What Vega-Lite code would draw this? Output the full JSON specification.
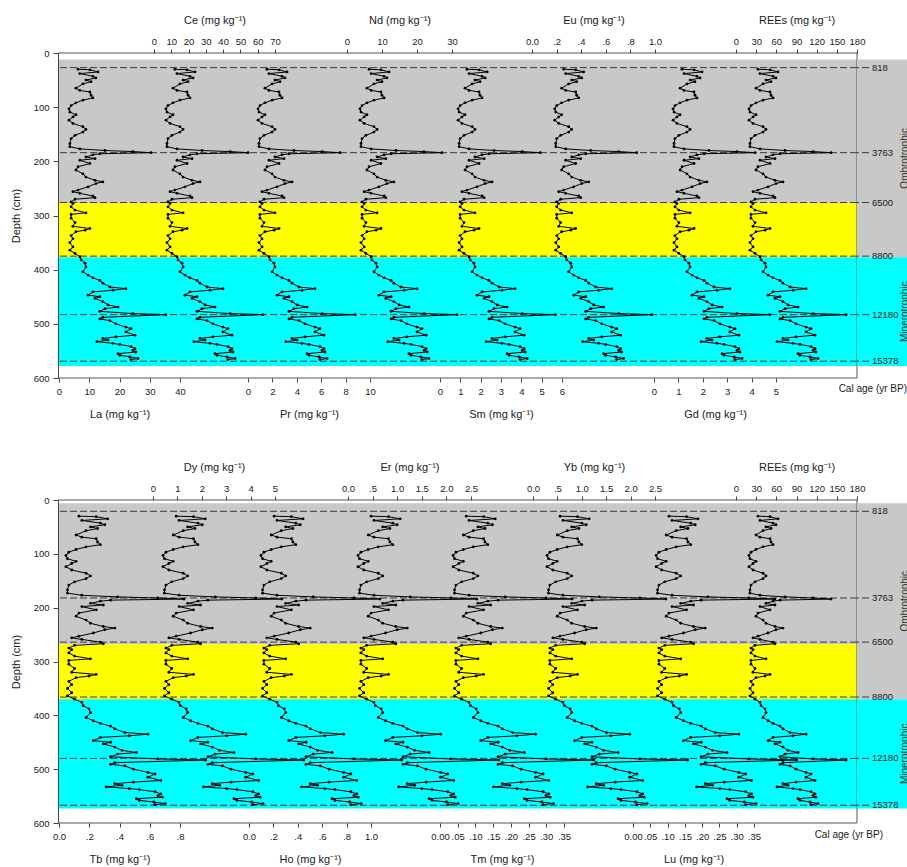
{
  "$schema": "https://vega.github.io/schema/vega-lite/v6.json",
  "background": "white",
  "padding": {"left": 10, "top": 14, "right": 0, "bottom": 0},
  "config": {
    "font": "Liberation Sans",
    "view": {"stroke": null},
    "axis": {"labelFont": "Liberation Sans", "titleFont": "Liberation Sans", "labelFontSize": 9.5, "titleFontSize": 11, "titleFontWeight": "normal", "labelColor": "#1a1a1a", "titleColor": "#1a1a1a", "tickColor": "#444", "domainColor": "#444", "grid": false, "labelFlush": false, "labelOverlap": false, "labelBound": false},
    "axisBottom": {"domain": false, "tickSize": 4, "labelPadding": 4, "titlePadding": 13},
    "axisTop": {"domain": false, "tickSize": 4, "labelPadding": 3, "titlePadding": 11},
    "axisLeft": {"domain": true, "tickSize": 5, "labelPadding": 4, "titlePadding": 12},
    "title": {"font": "Liberation Sans", "fontWeight": "normal", "fontSize": 10, "color": "#1a1a1a"}
  },
  "datasets": {
    "units1": [
      {"unit": "ombrotrophic", "top": 12, "bottom": 277},
      {"unit": "transitional", "top": 277, "bottom": 377},
      {"unit": "minerotrophic", "top": 377, "bottom": 578}
    ],
    "zones1": [
      {"zone": "Ombrotrophic", "top": 12, "bottom": 377},
      {"zone": "Minerotrophic", "top": 377, "bottom": 578}
    ],
    "ages1": [
      {"age": 818, "depth": 27}, {"age": 3763, "depth": 184}, {"age": 6500, "depth": 276},
      {"age": 8800, "depth": 375}, {"age": 12180, "depth": 483}, {"age": 15378, "depth": 569}
    ],
    "units2": [
      {"unit": "ombrotrophic", "top": 6, "bottom": 268},
      {"unit": "transitional", "top": 268, "bottom": 370},
      {"unit": "minerotrophic", "top": 370, "bottom": 573}
    ],
    "zones2": [
      {"zone": "Ombrotrophic", "top": 6, "bottom": 370},
      {"zone": "Minerotrophic", "top": 370, "bottom": 573}
    ],
    "ages2": [
      {"age": 818, "depth": 21}, {"age": 3763, "depth": 182}, {"age": 6500, "depth": 264},
      {"age": 8800, "depth": 366}, {"age": 12180, "depth": 480}, {"age": 15378, "depth": 567}
    ],
    "frame": [
      {"edge": "top", "depth": 0}, {"edge": "bottom", "depth": 600}, {"edge": "right"}
    ],
    "top": [
      {"depth":30,"La":6.3,"Ce":12.1,"Pr":1.56,"Nd":6.3,"Sm":1.33,"Eu":0.258,"Gd":1.15,"REE":32.7},
      {"depth":31,"La":10.2,"Ce":19.1,"Pr":2.54,"Nd":9.7,"Sm":1.92,"Eu":0.355,"Gd":1.64,"REE":50.6},
      {"depth":35,"La":12.9,"Ce":23.7,"Pr":3.2,"Nd":12.0,"Sm":2.32,"Eu":0.42,"Gd":1.97,"REE":62.5},
      {"depth":38,"La":6.9,"Ce":13.3,"Pr":1.72,"Nd":6.9,"Sm":1.43,"Eu":0.274,"Gd":1.23,"REE":35.7},
      {"depth":43,"La":11.2,"Ce":20.8,"Pr":2.79,"Nd":10.6,"Sm":2.07,"Eu":0.38,"Gd":1.76,"REE":55.1},
      {"depth":46,"La":12.2,"Ce":22.6,"Pr":3.03,"Nd":11.4,"Sm":2.22,"Eu":0.404,"Gd":1.89,"REE":59.5},
      {"depth":50,"La":8.9,"Ce":16.8,"Pr":2.21,"Nd":8.6,"Sm":1.72,"Eu":0.323,"Gd":1.48,"REE":44.6},
      {"depth":53,"La":10.6,"Ce":19.7,"Pr":2.62,"Nd":10.0,"Sm":1.97,"Eu":0.363,"Gd":1.68,"REE":52.1},
      {"depth":57,"La":7.9,"Ce":15.0,"Pr":1.97,"Nd":7.7,"Sm":1.58,"Eu":0.298,"Gd":1.35,"REE":40.2},
      {"depth":65,"La":5.6,"Ce":11.0,"Pr":1.39,"Nd":5.7,"Sm":1.23,"Eu":0.241,"Gd":1.07,"REE":29.8},
      {"depth":69,"La":6.9,"Ce":13.3,"Pr":1.72,"Nd":6.9,"Sm":1.43,"Eu":0.274,"Gd":1.23,"REE":35.7},
      {"depth":72,"La":10.2,"Ce":19.1,"Pr":2.54,"Nd":9.7,"Sm":1.92,"Eu":0.355,"Gd":1.64,"REE":50.6},
      {"depth":78,"La":10.6,"Ce":19.7,"Pr":2.62,"Nd":10.0,"Sm":1.97,"Eu":0.363,"Gd":1.68,"REE":52.1},
      {"depth":83,"La":11.2,"Ce":20.8,"Pr":2.79,"Nd":10.6,"Sm":2.07,"Eu":0.38,"Gd":1.76,"REE":55.1},
      {"depth":87,"La":7.9,"Ce":15.0,"Pr":1.97,"Nd":7.7,"Sm":1.58,"Eu":0.298,"Gd":1.35,"REE":40.2},
      {"depth":92,"La":5.6,"Ce":11.0,"Pr":1.39,"Nd":5.7,"Sm":1.23,"Eu":0.241,"Gd":1.07,"REE":29.8},
      {"depth":97,"La":4.0,"Ce":8.1,"Pr":0.98,"Nd":4.3,"Sm":0.99,"Eu":0.201,"Gd":0.86,"REE":22.3},
      {"depth":103,"La":3.3,"Ce":6.9,"Pr":0.82,"Nd":3.7,"Sm":0.89,"Eu":0.185,"Gd":0.78,"REE":19.3},
      {"depth":109,"La":3.6,"Ce":7.5,"Pr":0.9,"Nd":4.0,"Sm":0.94,"Eu":0.193,"Gd":0.82,"REE":20.8},
      {"depth":114,"La":5.6,"Ce":11.0,"Pr":1.39,"Nd":5.7,"Sm":1.23,"Eu":0.241,"Gd":1.07,"REE":29.8},
      {"depth":118,"La":4.6,"Ce":9.3,"Pr":1.15,"Nd":4.9,"Sm":1.08,"Eu":0.217,"Gd":0.94,"REE":25.3},
      {"depth":124,"La":3.3,"Ce":6.9,"Pr":0.82,"Nd":3.7,"Sm":0.89,"Eu":0.185,"Gd":0.78,"REE":19.3},
      {"depth":130,"La":4.6,"Ce":9.3,"Pr":1.15,"Nd":4.9,"Sm":1.08,"Eu":0.217,"Gd":0.94,"REE":25.3},
      {"depth":136,"La":7.9,"Ce":15.0,"Pr":1.97,"Nd":7.7,"Sm":1.58,"Eu":0.298,"Gd":1.35,"REE":40.2},
      {"depth":141,"La":8.9,"Ce":16.8,"Pr":2.21,"Nd":8.6,"Sm":1.72,"Eu":0.323,"Gd":1.48,"REE":44.6},
      {"depth":146,"La":7.9,"Ce":15.0,"Pr":1.97,"Nd":7.7,"Sm":1.58,"Eu":0.298,"Gd":1.35,"REE":40.2},
      {"depth":152,"La":5.3,"Ce":10.4,"Pr":1.31,"Nd":5.4,"Sm":1.18,"Eu":0.233,"Gd":1.02,"REE":28.3},
      {"depth":158,"La":4.0,"Ce":8.1,"Pr":0.98,"Nd":4.3,"Sm":0.99,"Eu":0.201,"Gd":0.86,"REE":22.3},
      {"depth":167,"La":3.6,"Ce":7.5,"Pr":0.9,"Nd":4.0,"Sm":0.94,"Eu":0.193,"Gd":0.82,"REE":20.8},
      {"depth":173,"La":3.6,"Ce":7.5,"Pr":0.9,"Nd":4.0,"Sm":0.94,"Eu":0.193,"Gd":0.82,"REE":20.8},
      {"depth":177,"La":6.9,"Ce":13.3,"Pr":1.72,"Nd":6.9,"Sm":1.43,"Eu":0.274,"Gd":1.23,"REE":35.7},
      {"depth":180,"La":15.2,"Ce":27.8,"Pr":3.77,"Nd":14.0,"Sm":2.66,"Eu":0.477,"Gd":2.25,"REE":72.9},
      {"depth":182,"La":24.4,"Ce":44.0,"Pr":6.07,"Nd":22.0,"Sm":4.04,"Eu":0.705,"Gd":3.4,"REE":114.6},
      {"depth":184,"La":30.4,"Ce":54.4,"Pr":7.54,"Nd":27.1,"Sm":4.93,"Eu":0.851,"Gd":4.14,"REE":141.4},
      {"depth":186,"La":13.5,"Ce":24.9,"Pr":3.36,"Nd":12.6,"Sm":2.41,"Eu":0.437,"Gd":2.05,"REE":65.5},
      {"depth":188,"La":11.2,"Ce":20.8,"Pr":2.79,"Nd":10.6,"Sm":2.07,"Eu":0.38,"Gd":1.76,"REE":55.1},
      {"depth":192,"La":8.9,"Ce":16.8,"Pr":2.21,"Nd":8.6,"Sm":1.72,"Eu":0.323,"Gd":1.48,"REE":44.6},
      {"depth":195,"La":11.9,"Ce":22.0,"Pr":2.95,"Nd":11.1,"Sm":2.17,"Eu":0.396,"Gd":1.84,"REE":58.0},
      {"depth":198,"La":6.9,"Ce":13.3,"Pr":1.72,"Nd":6.9,"Sm":1.43,"Eu":0.274,"Gd":1.23,"REE":35.7},
      {"depth":204,"La":10.2,"Ce":19.1,"Pr":2.54,"Nd":9.7,"Sm":1.92,"Eu":0.355,"Gd":1.64,"REE":50.6},
      {"depth":210,"La":6.3,"Ce":12.1,"Pr":1.56,"Nd":6.3,"Sm":1.33,"Eu":0.258,"Gd":1.15,"REE":32.7},
      {"depth":216,"La":5.6,"Ce":11.0,"Pr":1.39,"Nd":5.7,"Sm":1.23,"Eu":0.241,"Gd":1.07,"REE":29.8},
      {"depth":223,"La":7.9,"Ce":15.0,"Pr":1.97,"Nd":7.7,"Sm":1.58,"Eu":0.298,"Gd":1.35,"REE":40.2},
      {"depth":229,"La":8.9,"Ce":16.8,"Pr":2.21,"Nd":8.6,"Sm":1.72,"Eu":0.323,"Gd":1.48,"REE":44.6},
      {"depth":235,"La":11.9,"Ce":22.0,"Pr":2.95,"Nd":11.1,"Sm":2.17,"Eu":0.396,"Gd":1.84,"REE":58.0},
      {"depth":238,"La":14.5,"Ce":26.6,"Pr":3.61,"Nd":13.4,"Sm":2.56,"Eu":0.461,"Gd":2.17,"REE":69.9},
      {"depth":241,"La":12.2,"Ce":22.6,"Pr":3.03,"Nd":11.4,"Sm":2.22,"Eu":0.404,"Gd":1.89,"REE":59.5},
      {"depth":247,"La":9.6,"Ce":17.9,"Pr":2.38,"Nd":9.1,"Sm":1.82,"Eu":0.339,"Gd":1.56,"REE":47.6},
      {"depth":253,"La":6.3,"Ce":12.1,"Pr":1.56,"Nd":6.3,"Sm":1.33,"Eu":0.258,"Gd":1.15,"REE":32.7},
      {"depth":256,"La":4.6,"Ce":9.3,"Pr":1.15,"Nd":4.9,"Sm":1.08,"Eu":0.217,"Gd":0.94,"REE":25.3},
      {"depth":259,"La":6.9,"Ce":13.3,"Pr":1.72,"Nd":6.9,"Sm":1.43,"Eu":0.274,"Gd":1.23,"REE":35.7},
      {"depth":264,"La":11.2,"Ce":20.8,"Pr":2.79,"Nd":10.6,"Sm":2.07,"Eu":0.38,"Gd":1.76,"REE":55.1},
      {"depth":267,"La":11.9,"Ce":22.0,"Pr":2.95,"Nd":11.1,"Sm":2.17,"Eu":0.396,"Gd":1.84,"REE":58.0},
      {"depth":270,"La":5.3,"Ce":10.4,"Pr":1.31,"Nd":5.4,"Sm":1.18,"Eu":0.233,"Gd":1.02,"REE":28.3},
      {"depth":275,"La":4.0,"Ce":8.1,"Pr":0.98,"Nd":4.3,"Sm":0.99,"Eu":0.201,"Gd":0.86,"REE":22.3},
      {"depth":278,"La":4.6,"Ce":9.3,"Pr":1.15,"Nd":4.9,"Sm":1.08,"Eu":0.217,"Gd":0.94,"REE":25.3},
      {"depth":284,"La":4.0,"Ce":8.1,"Pr":0.98,"Nd":4.3,"Sm":0.99,"Eu":0.201,"Gd":0.86,"REE":22.3},
      {"depth":290,"La":5.3,"Ce":10.4,"Pr":1.31,"Nd":5.4,"Sm":1.18,"Eu":0.233,"Gd":1.02,"REE":28.3},
      {"depth":295,"La":8.9,"Ce":16.8,"Pr":2.21,"Nd":8.6,"Sm":1.72,"Eu":0.323,"Gd":1.48,"REE":44.6},
      {"depth":298,"La":4.0,"Ce":8.1,"Pr":0.98,"Nd":4.3,"Sm":0.99,"Eu":0.201,"Gd":0.86,"REE":22.3},
      {"depth":305,"La":4.0,"Ce":8.1,"Pr":0.98,"Nd":4.3,"Sm":0.99,"Eu":0.201,"Gd":0.86,"REE":22.3},
      {"depth":313,"La":5.3,"Ce":10.4,"Pr":1.31,"Nd":5.4,"Sm":1.18,"Eu":0.233,"Gd":1.02,"REE":28.3},
      {"depth":320,"La":4.6,"Ce":9.3,"Pr":1.15,"Nd":4.9,"Sm":1.08,"Eu":0.217,"Gd":0.94,"REE":25.3},
      {"depth":324,"La":10.2,"Ce":19.1,"Pr":2.54,"Nd":9.7,"Sm":1.92,"Eu":0.355,"Gd":1.64,"REE":50.6},
      {"depth":327,"La":8.6,"Ce":16.2,"Pr":2.13,"Nd":8.3,"Sm":1.67,"Eu":0.315,"Gd":1.43,"REE":43.2},
      {"depth":330,"La":5.6,"Ce":11.0,"Pr":1.39,"Nd":5.7,"Sm":1.23,"Eu":0.241,"Gd":1.07,"REE":29.8},
      {"depth":337,"La":4.0,"Ce":8.1,"Pr":0.98,"Nd":4.3,"Sm":0.99,"Eu":0.201,"Gd":0.86,"REE":22.3},
      {"depth":343,"La":4.6,"Ce":9.3,"Pr":1.15,"Nd":4.9,"Sm":1.08,"Eu":0.217,"Gd":0.94,"REE":25.3},
      {"depth":350,"La":3.6,"Ce":7.5,"Pr":0.9,"Nd":4.0,"Sm":0.94,"Eu":0.193,"Gd":0.82,"REE":20.8},
      {"depth":358,"La":4.6,"Ce":9.3,"Pr":1.15,"Nd":4.9,"Sm":1.08,"Eu":0.217,"Gd":0.94,"REE":25.3},
      {"depth":364,"La":3.6,"Ce":7.5,"Pr":0.9,"Nd":4.0,"Sm":0.94,"Eu":0.193,"Gd":0.82,"REE":20.8},
      {"depth":370,"La":5.3,"Ce":10.4,"Pr":1.31,"Nd":5.4,"Sm":1.18,"Eu":0.233,"Gd":1.02,"REE":28.3},
      {"depth":376,"La":6.9,"Ce":13.3,"Pr":1.72,"Nd":6.9,"Sm":1.43,"Eu":0.274,"Gd":1.23,"REE":35.7},
      {"depth":382,"La":7.3,"Ce":13.9,"Pr":1.8,"Nd":7.1,"Sm":1.48,"Eu":0.282,"Gd":1.27,"REE":37.2},
      {"depth":388,"La":8.6,"Ce":16.2,"Pr":2.13,"Nd":8.3,"Sm":1.67,"Eu":0.315,"Gd":1.43,"REE":43.2},
      {"depth":395,"La":8.9,"Ce":16.8,"Pr":2.21,"Nd":8.6,"Sm":1.72,"Eu":0.323,"Gd":1.48,"REE":44.6},
      {"depth":404,"La":7.9,"Ce":15.0,"Pr":1.97,"Nd":7.7,"Sm":1.58,"Eu":0.298,"Gd":1.35,"REE":40.2},
      {"depth":410,"La":9.6,"Ce":17.9,"Pr":2.38,"Nd":9.1,"Sm":1.82,"Eu":0.339,"Gd":1.56,"REE":47.6},
      {"depth":415,"La":11.2,"Ce":20.8,"Pr":2.79,"Nd":10.6,"Sm":2.07,"Eu":0.38,"Gd":1.76,"REE":55.1},
      {"depth":420,"La":13.5,"Ce":24.9,"Pr":3.36,"Nd":12.6,"Sm":2.41,"Eu":0.437,"Gd":2.05,"REE":65.5},
      {"depth":425,"La":14.5,"Ce":26.6,"Pr":3.61,"Nd":13.4,"Sm":2.56,"Eu":0.461,"Gd":2.17,"REE":69.9},
      {"depth":432,"La":16.8,"Ce":30.7,"Pr":4.18,"Nd":15.4,"Sm":2.91,"Eu":0.518,"Gd":2.46,"REE":80.4},
      {"depth":435,"La":22.1,"Ce":39.9,"Pr":5.49,"Nd":20.0,"Sm":3.69,"Eu":0.648,"Gd":3.11,"REE":104.2},
      {"depth":438,"La":17.8,"Ce":32.4,"Pr":4.43,"Nd":16.3,"Sm":3.05,"Eu":0.542,"Gd":2.58,"REE":84.8},
      {"depth":441,"La":11.2,"Ce":20.8,"Pr":2.79,"Nd":10.6,"Sm":2.07,"Eu":0.38,"Gd":1.76,"REE":55.1},
      {"depth":447,"La":9.6,"Ce":17.9,"Pr":2.38,"Nd":9.1,"Sm":1.82,"Eu":0.339,"Gd":1.56,"REE":47.6},
      {"depth":450,"La":13.5,"Ce":24.9,"Pr":3.36,"Nd":12.6,"Sm":2.41,"Eu":0.437,"Gd":2.05,"REE":65.5},
      {"depth":453,"La":11.9,"Ce":22.0,"Pr":2.95,"Nd":11.1,"Sm":2.17,"Eu":0.396,"Gd":1.84,"REE":58.0},
      {"depth":459,"La":14.5,"Ce":26.6,"Pr":3.61,"Nd":13.4,"Sm":2.56,"Eu":0.461,"Gd":2.17,"REE":69.9},
      {"depth":465,"La":16.2,"Ce":29.5,"Pr":4.02,"Nd":14.9,"Sm":2.81,"Eu":0.502,"Gd":2.38,"REE":77.4},
      {"depth":469,"La":19.5,"Ce":35.3,"Pr":4.84,"Nd":17.7,"Sm":3.3,"Eu":0.583,"Gd":2.79,"REE":92.3},
      {"depth":472,"La":15.2,"Ce":27.8,"Pr":3.77,"Nd":14.0,"Sm":2.66,"Eu":0.477,"Gd":2.25,"REE":72.9},
      {"depth":477,"La":13.5,"Ce":24.9,"Pr":3.36,"Nd":12.6,"Sm":2.41,"Eu":0.437,"Gd":2.05,"REE":65.5},
      {"depth":481,"La":24.4,"Ce":44.0,"Pr":6.07,"Nd":22.0,"Sm":4.04,"Eu":0.705,"Gd":3.4,"REE":114.6},
      {"depth":483,"La":35.3,"Ce":63.1,"Pr":8.77,"Nd":31.4,"Sm":5.67,"Eu":0.973,"Gd":4.75,"REE":163.7},
      {"depth":488,"La":14.5,"Ce":26.6,"Pr":3.61,"Nd":13.4,"Sm":2.56,"Eu":0.461,"Gd":2.17,"REE":69.9},
      {"depth":491,"La":13.5,"Ce":24.9,"Pr":3.36,"Nd":12.6,"Sm":2.41,"Eu":0.437,"Gd":2.05,"REE":65.5},
      {"depth":494,"La":16.8,"Ce":30.7,"Pr":4.18,"Nd":15.4,"Sm":2.91,"Eu":0.518,"Gd":2.46,"REE":80.4},
      {"depth":500,"La":18.8,"Ce":34.1,"Pr":4.67,"Nd":17.1,"Sm":3.2,"Eu":0.567,"Gd":2.7,"REE":89.3},
      {"depth":506,"La":22.1,"Ce":39.9,"Pr":5.49,"Nd":20.0,"Sm":3.69,"Eu":0.648,"Gd":3.11,"REE":104.2},
      {"depth":509,"La":23.8,"Ce":42.8,"Pr":5.9,"Nd":21.4,"Sm":3.94,"Eu":0.689,"Gd":3.32,"REE":111.6},
      {"depth":515,"La":22.1,"Ce":39.9,"Pr":5.49,"Nd":20.0,"Sm":3.69,"Eu":0.648,"Gd":3.11,"REE":104.2},
      {"depth":521,"La":25.1,"Ce":45.1,"Pr":6.23,"Nd":22.6,"Sm":4.14,"Eu":0.721,"Gd":3.48,"REE":117.6},
      {"depth":524,"La":18.8,"Ce":34.1,"Pr":4.67,"Nd":17.1,"Sm":3.2,"Eu":0.567,"Gd":2.7,"REE":89.3},
      {"depth":527,"La":14.5,"Ce":26.6,"Pr":3.61,"Nd":13.4,"Sm":2.56,"Eu":0.461,"Gd":2.17,"REE":69.9},
      {"depth":530,"La":16.2,"Ce":29.5,"Pr":4.02,"Nd":14.9,"Sm":2.81,"Eu":0.502,"Gd":2.38,"REE":77.4},
      {"depth":533,"La":12.5,"Ce":23.1,"Pr":3.11,"Nd":11.7,"Sm":2.27,"Eu":0.412,"Gd":1.93,"REE":61.0},
      {"depth":536,"La":17.8,"Ce":32.4,"Pr":4.43,"Nd":16.3,"Sm":3.05,"Eu":0.542,"Gd":2.58,"REE":84.8},
      {"depth":538,"La":20.1,"Ce":36.4,"Pr":5.0,"Nd":18.3,"Sm":3.4,"Eu":0.599,"Gd":2.87,"REE":95.2},
      {"depth":542,"La":23.8,"Ce":42.8,"Pr":5.9,"Nd":21.4,"Sm":3.94,"Eu":0.689,"Gd":3.32,"REE":111.6},
      {"depth":546,"La":25.1,"Ce":45.1,"Pr":6.23,"Nd":22.6,"Sm":4.14,"Eu":0.721,"Gd":3.48,"REE":117.6},
      {"depth":549,"La":24.4,"Ce":44.0,"Pr":6.07,"Nd":22.0,"Sm":4.04,"Eu":0.705,"Gd":3.4,"REE":114.6},
      {"depth":552,"La":25.4,"Ce":45.7,"Pr":6.31,"Nd":22.9,"Sm":4.19,"Eu":0.729,"Gd":3.52,"REE":119.0},
      {"depth":555,"La":19.5,"Ce":35.3,"Pr":4.84,"Nd":17.7,"Sm":3.3,"Eu":0.583,"Gd":2.79,"REE":92.3},
      {"depth":558,"La":20.1,"Ce":36.4,"Pr":5.0,"Nd":18.3,"Sm":3.4,"Eu":0.599,"Gd":2.87,"REE":95.2},
      {"depth":561,"La":23.4,"Ce":42.2,"Pr":5.82,"Nd":21.1,"Sm":3.89,"Eu":0.68,"Gd":3.28,"REE":110.1},
      {"depth":564,"La":26.1,"Ce":46.9,"Pr":6.48,"Nd":23.4,"Sm":4.29,"Eu":0.746,"Gd":3.61,"REE":122.0},
      {"depth":566,"La":23.8,"Ce":42.8,"Pr":5.9,"Nd":21.4,"Sm":3.94,"Eu":0.689,"Gd":3.32,"REE":111.6}
    ],
    "bottom": [
      {"depth":30,"Tb":0.132,"Dy":0.95,"Ho":0.206,"Er":0.47,"Tm":0.074,"Yb":0.555,"Lu":0.104,"REE":32.7},
      {"depth":31,"Tb":0.246,"Dy":1.66,"Ho":0.348,"Er":0.823,"Tm":0.123,"Yb":0.912,"Lu":0.155,"REE":50.6},
      {"depth":35,"Tb":0.322,"Dy":2.14,"Ho":0.443,"Er":1.059,"Tm":0.156,"Yb":1.15,"Lu":0.188,"REE":62.5},
      {"depth":38,"Tb":0.151,"Dy":1.07,"Ho":0.23,"Er":0.528,"Tm":0.082,"Yb":0.615,"Lu":0.113,"REE":35.7},
      {"depth":43,"Tb":0.274,"Dy":1.84,"Ho":0.384,"Er":0.911,"Tm":0.135,"Yb":1.0,"Lu":0.167,"REE":55.1},
      {"depth":46,"Tb":0.303,"Dy":2.02,"Ho":0.42,"Er":1.0,"Tm":0.148,"Yb":1.09,"Lu":0.18,"REE":59.5},
      {"depth":50,"Tb":0.208,"Dy":1.42,"Ho":0.301,"Er":0.705,"Tm":0.107,"Yb":0.793,"Lu":0.138,"REE":44.6},
      {"depth":53,"Tb":0.255,"Dy":1.72,"Ho":0.36,"Er":0.852,"Tm":0.127,"Yb":0.941,"Lu":0.159,"REE":52.1},
      {"depth":57,"Tb":0.179,"Dy":1.24,"Ho":0.265,"Er":0.616,"Tm":0.094,"Yb":0.703,"Lu":0.125,"REE":40.2},
      {"depth":65,"Tb":0.113,"Dy":0.83,"Ho":0.182,"Er":0.411,"Tm":0.066,"Yb":0.496,"Lu":0.096,"REE":29.8},
      {"depth":69,"Tb":0.151,"Dy":1.07,"Ho":0.23,"Er":0.528,"Tm":0.082,"Yb":0.615,"Lu":0.113,"REE":35.7},
      {"depth":72,"Tb":0.246,"Dy":1.66,"Ho":0.348,"Er":0.823,"Tm":0.123,"Yb":0.912,"Lu":0.155,"REE":50.6},
      {"depth":78,"Tb":0.255,"Dy":1.72,"Ho":0.36,"Er":0.852,"Tm":0.127,"Yb":0.941,"Lu":0.159,"REE":52.1},
      {"depth":83,"Tb":0.274,"Dy":1.84,"Ho":0.384,"Er":0.911,"Tm":0.135,"Yb":1.0,"Lu":0.167,"REE":55.1},
      {"depth":87,"Tb":0.179,"Dy":1.24,"Ho":0.265,"Er":0.616,"Tm":0.094,"Yb":0.703,"Lu":0.125,"REE":40.2},
      {"depth":92,"Tb":0.113,"Dy":0.83,"Ho":0.182,"Er":0.411,"Tm":0.066,"Yb":0.496,"Lu":0.096,"REE":29.8},
      {"depth":97,"Tb":0.065,"Dy":0.53,"Ho":0.122,"Er":0.262,"Tm":0.045,"Yb":0.346,"Lu":0.075,"REE":22.3},
      {"depth":103,"Tb":0.046,"Dy":0.41,"Ho":0.098,"Er":0.203,"Tm":0.037,"Yb":0.287,"Lu":0.067,"REE":19.3},
      {"depth":109,"Tb":0.056,"Dy":0.47,"Ho":0.111,"Er":0.234,"Tm":0.041,"Yb":0.318,"Lu":0.071,"REE":20.8},
      {"depth":114,"Tb":0.113,"Dy":0.83,"Ho":0.182,"Er":0.411,"Tm":0.066,"Yb":0.496,"Lu":0.096,"REE":29.8},
      {"depth":118,"Tb":0.084,"Dy":0.65,"Ho":0.146,"Er":0.321,"Tm":0.053,"Yb":0.406,"Lu":0.083,"REE":25.3},
      {"depth":124,"Tb":0.046,"Dy":0.41,"Ho":0.098,"Er":0.203,"Tm":0.037,"Yb":0.287,"Lu":0.067,"REE":19.3},
      {"depth":130,"Tb":0.084,"Dy":0.65,"Ho":0.146,"Er":0.321,"Tm":0.053,"Yb":0.406,"Lu":0.083,"REE":25.3},
      {"depth":136,"Tb":0.179,"Dy":1.24,"Ho":0.265,"Er":0.616,"Tm":0.094,"Yb":0.703,"Lu":0.125,"REE":40.2},
      {"depth":141,"Tb":0.208,"Dy":1.42,"Ho":0.301,"Er":0.705,"Tm":0.107,"Yb":0.793,"Lu":0.138,"REE":44.6},
      {"depth":146,"Tb":0.179,"Dy":1.24,"Ho":0.265,"Er":0.616,"Tm":0.094,"Yb":0.703,"Lu":0.125,"REE":40.2},
      {"depth":152,"Tb":0.103,"Dy":0.77,"Ho":0.17,"Er":0.38,"Tm":0.061,"Yb":0.465,"Lu":0.092,"REE":28.3},
      {"depth":158,"Tb":0.065,"Dy":0.53,"Ho":0.122,"Er":0.262,"Tm":0.045,"Yb":0.346,"Lu":0.075,"REE":22.3},
      {"depth":167,"Tb":0.056,"Dy":0.47,"Ho":0.111,"Er":0.234,"Tm":0.041,"Yb":0.318,"Lu":0.071,"REE":20.8},
      {"depth":173,"Tb":0.056,"Dy":0.47,"Ho":0.111,"Er":0.234,"Tm":0.041,"Yb":0.318,"Lu":0.071,"REE":20.8},
      {"depth":177,"Tb":0.151,"Dy":1.07,"Ho":0.23,"Er":0.528,"Tm":0.082,"Yb":0.615,"Lu":0.113,"REE":35.7},
      {"depth":180,"Tb":0.388,"Dy":2.55,"Ho":0.526,"Er":1.264,"Tm":0.184,"Yb":1.357,"Lu":0.217,"REE":72.9},
      {"depth":182,"Tb":0.654,"Dy":4.21,"Ho":0.859,"Er":2.089,"Tm":0.299,"Yb":2.189,"Lu":0.335,"REE":114.6},
      {"depth":184,"Tb":0.826,"Dy":5.28,"Ho":1.073,"Er":2.62,"Tm":0.373,"Yb":2.723,"Lu":0.41,"REE":141.4},
      {"depth":186,"Tb":0.341,"Dy":2.25,"Ho":0.467,"Er":1.118,"Tm":0.164,"Yb":1.209,"Lu":0.197,"REE":65.5},
      {"depth":188,"Tb":0.274,"Dy":1.84,"Ho":0.384,"Er":0.911,"Tm":0.135,"Yb":1.0,"Lu":0.167,"REE":55.1},
      {"depth":192,"Tb":0.208,"Dy":1.42,"Ho":0.301,"Er":0.705,"Tm":0.107,"Yb":0.793,"Lu":0.138,"REE":44.6},
      {"depth":195,"Tb":0.293,"Dy":1.95,"Ho":0.407,"Er":0.97,"Tm":0.143,"Yb":1.059,"Lu":0.175,"REE":58.0},
      {"depth":198,"Tb":0.151,"Dy":1.07,"Ho":0.23,"Er":0.528,"Tm":0.082,"Yb":0.615,"Lu":0.113,"REE":35.7},
      {"depth":204,"Tb":0.246,"Dy":1.66,"Ho":0.348,"Er":0.823,"Tm":0.123,"Yb":0.912,"Lu":0.155,"REE":50.6},
      {"depth":210,"Tb":0.132,"Dy":0.95,"Ho":0.206,"Er":0.47,"Tm":0.074,"Yb":0.555,"Lu":0.104,"REE":32.7},
      {"depth":216,"Tb":0.113,"Dy":0.83,"Ho":0.182,"Er":0.411,"Tm":0.066,"Yb":0.496,"Lu":0.096,"REE":29.8},
      {"depth":223,"Tb":0.179,"Dy":1.24,"Ho":0.265,"Er":0.616,"Tm":0.094,"Yb":0.703,"Lu":0.125,"REE":40.2},
      {"depth":229,"Tb":0.208,"Dy":1.42,"Ho":0.301,"Er":0.705,"Tm":0.107,"Yb":0.793,"Lu":0.138,"REE":44.6},
      {"depth":235,"Tb":0.293,"Dy":1.95,"Ho":0.407,"Er":0.97,"Tm":0.143,"Yb":1.059,"Lu":0.175,"REE":58.0},
      {"depth":238,"Tb":0.369,"Dy":2.43,"Ho":0.502,"Er":1.205,"Tm":0.176,"Yb":1.297,"Lu":0.209,"REE":69.9},
      {"depth":241,"Tb":0.303,"Dy":2.02,"Ho":0.42,"Er":1.0,"Tm":0.148,"Yb":1.09,"Lu":0.18,"REE":59.5},
      {"depth":247,"Tb":0.227,"Dy":1.54,"Ho":0.325,"Er":0.764,"Tm":0.115,"Yb":0.852,"Lu":0.146,"REE":47.6},
      {"depth":253,"Tb":0.132,"Dy":0.95,"Ho":0.206,"Er":0.47,"Tm":0.074,"Yb":0.555,"Lu":0.104,"REE":32.7},
      {"depth":256,"Tb":0.084,"Dy":0.65,"Ho":0.146,"Er":0.321,"Tm":0.053,"Yb":0.406,"Lu":0.083,"REE":25.3},
      {"depth":259,"Tb":0.151,"Dy":1.07,"Ho":0.23,"Er":0.528,"Tm":0.082,"Yb":0.615,"Lu":0.113,"REE":35.7},
      {"depth":264,"Tb":0.274,"Dy":1.84,"Ho":0.384,"Er":0.911,"Tm":0.135,"Yb":1.0,"Lu":0.167,"REE":55.1},
      {"depth":267,"Tb":0.293,"Dy":1.95,"Ho":0.407,"Er":0.97,"Tm":0.143,"Yb":1.059,"Lu":0.175,"REE":58.0},
      {"depth":270,"Tb":0.103,"Dy":0.77,"Ho":0.17,"Er":0.38,"Tm":0.061,"Yb":0.465,"Lu":0.092,"REE":28.3},
      {"depth":275,"Tb":0.065,"Dy":0.53,"Ho":0.122,"Er":0.262,"Tm":0.045,"Yb":0.346,"Lu":0.075,"REE":22.3},
      {"depth":278,"Tb":0.084,"Dy":0.65,"Ho":0.146,"Er":0.321,"Tm":0.053,"Yb":0.406,"Lu":0.083,"REE":25.3},
      {"depth":284,"Tb":0.065,"Dy":0.53,"Ho":0.122,"Er":0.262,"Tm":0.045,"Yb":0.346,"Lu":0.075,"REE":22.3},
      {"depth":290,"Tb":0.103,"Dy":0.77,"Ho":0.17,"Er":0.38,"Tm":0.061,"Yb":0.465,"Lu":0.092,"REE":28.3},
      {"depth":295,"Tb":0.208,"Dy":1.42,"Ho":0.301,"Er":0.705,"Tm":0.107,"Yb":0.793,"Lu":0.138,"REE":44.6},
      {"depth":298,"Tb":0.065,"Dy":0.53,"Ho":0.122,"Er":0.262,"Tm":0.045,"Yb":0.346,"Lu":0.075,"REE":22.3},
      {"depth":305,"Tb":0.065,"Dy":0.53,"Ho":0.122,"Er":0.262,"Tm":0.045,"Yb":0.346,"Lu":0.075,"REE":22.3},
      {"depth":313,"Tb":0.103,"Dy":0.77,"Ho":0.17,"Er":0.38,"Tm":0.061,"Yb":0.465,"Lu":0.092,"REE":28.3},
      {"depth":320,"Tb":0.084,"Dy":0.65,"Ho":0.146,"Er":0.321,"Tm":0.053,"Yb":0.406,"Lu":0.083,"REE":25.3},
      {"depth":324,"Tb":0.246,"Dy":1.66,"Ho":0.348,"Er":0.823,"Tm":0.123,"Yb":0.912,"Lu":0.155,"REE":50.6},
      {"depth":327,"Tb":0.198,"Dy":1.36,"Ho":0.289,"Er":0.675,"Tm":0.102,"Yb":0.762,"Lu":0.134,"REE":43.2},
      {"depth":330,"Tb":0.113,"Dy":0.83,"Ho":0.182,"Er":0.411,"Tm":0.066,"Yb":0.496,"Lu":0.096,"REE":29.8},
      {"depth":337,"Tb":0.065,"Dy":0.53,"Ho":0.122,"Er":0.262,"Tm":0.045,"Yb":0.346,"Lu":0.075,"REE":22.3},
      {"depth":343,"Tb":0.084,"Dy":0.65,"Ho":0.146,"Er":0.321,"Tm":0.053,"Yb":0.406,"Lu":0.083,"REE":25.3},
      {"depth":350,"Tb":0.056,"Dy":0.47,"Ho":0.111,"Er":0.234,"Tm":0.041,"Yb":0.318,"Lu":0.071,"REE":20.8},
      {"depth":358,"Tb":0.084,"Dy":0.65,"Ho":0.146,"Er":0.321,"Tm":0.053,"Yb":0.406,"Lu":0.083,"REE":25.3},
      {"depth":364,"Tb":0.056,"Dy":0.47,"Ho":0.111,"Er":0.234,"Tm":0.041,"Yb":0.318,"Lu":0.071,"REE":20.8},
      {"depth":370,"Tb":0.103,"Dy":0.77,"Ho":0.17,"Er":0.38,"Tm":0.061,"Yb":0.465,"Lu":0.092,"REE":28.3},
      {"depth":376,"Tb":0.151,"Dy":1.07,"Ho":0.23,"Er":0.528,"Tm":0.082,"Yb":0.615,"Lu":0.113,"REE":35.7},
      {"depth":382,"Tb":0.16,"Dy":1.12,"Ho":0.241,"Er":0.557,"Tm":0.086,"Yb":0.643,"Lu":0.117,"REE":37.2},
      {"depth":388,"Tb":0.198,"Dy":1.36,"Ho":0.289,"Er":0.675,"Tm":0.102,"Yb":0.762,"Lu":0.134,"REE":43.2},
      {"depth":395,"Tb":0.208,"Dy":1.42,"Ho":0.301,"Er":0.705,"Tm":0.107,"Yb":0.793,"Lu":0.138,"REE":44.6},
      {"depth":404,"Tb":0.179,"Dy":1.24,"Ho":0.265,"Er":0.616,"Tm":0.094,"Yb":0.703,"Lu":0.125,"REE":40.2},
      {"depth":410,"Tb":0.227,"Dy":1.54,"Ho":0.325,"Er":0.764,"Tm":0.115,"Yb":0.852,"Lu":0.146,"REE":47.6},
      {"depth":415,"Tb":0.274,"Dy":1.84,"Ho":0.384,"Er":0.911,"Tm":0.135,"Yb":1.0,"Lu":0.167,"REE":55.1},
      {"depth":420,"Tb":0.341,"Dy":2.25,"Ho":0.467,"Er":1.118,"Tm":0.164,"Yb":1.209,"Lu":0.197,"REE":65.5},
      {"depth":425,"Tb":0.369,"Dy":2.43,"Ho":0.502,"Er":1.205,"Tm":0.176,"Yb":1.297,"Lu":0.209,"REE":69.9},
      {"depth":432,"Tb":0.436,"Dy":2.85,"Ho":0.586,"Er":1.413,"Tm":0.205,"Yb":1.506,"Lu":0.238,"REE":80.4},
      {"depth":435,"Tb":0.588,"Dy":3.8,"Ho":0.776,"Er":1.884,"Tm":0.27,"Yb":1.982,"Lu":0.306,"REE":104.2},
      {"depth":438,"Tb":0.464,"Dy":3.02,"Ho":0.621,"Er":1.5,"Tm":0.217,"Yb":1.594,"Lu":0.251,"REE":84.8},
      {"depth":441,"Tb":0.274,"Dy":1.84,"Ho":0.384,"Er":0.911,"Tm":0.135,"Yb":1.0,"Lu":0.167,"REE":55.1},
      {"depth":447,"Tb":0.227,"Dy":1.54,"Ho":0.325,"Er":0.764,"Tm":0.115,"Yb":0.852,"Lu":0.146,"REE":47.6},
      {"depth":450,"Tb":0.341,"Dy":2.25,"Ho":0.467,"Er":1.118,"Tm":0.164,"Yb":1.209,"Lu":0.197,"REE":65.5},
      {"depth":453,"Tb":0.293,"Dy":1.95,"Ho":0.407,"Er":0.97,"Tm":0.143,"Yb":1.059,"Lu":0.175,"REE":58.0},
      {"depth":459,"Tb":0.369,"Dy":2.43,"Ho":0.502,"Er":1.205,"Tm":0.176,"Yb":1.297,"Lu":0.209,"REE":69.9},
      {"depth":465,"Tb":0.417,"Dy":2.73,"Ho":0.562,"Er":1.354,"Tm":0.197,"Yb":1.447,"Lu":0.23,"REE":77.4},
      {"depth":469,"Tb":0.512,"Dy":3.32,"Ho":0.681,"Er":1.648,"Tm":0.238,"Yb":1.744,"Lu":0.272,"REE":92.3},
      {"depth":472,"Tb":0.388,"Dy":2.55,"Ho":0.526,"Er":1.264,"Tm":0.184,"Yb":1.357,"Lu":0.217,"REE":72.9},
      {"depth":477,"Tb":0.341,"Dy":2.25,"Ho":0.467,"Er":1.118,"Tm":0.164,"Yb":1.209,"Lu":0.197,"REE":65.5},
      {"depth":481,"Tb":0.654,"Dy":4.21,"Ho":0.859,"Er":2.089,"Tm":0.299,"Yb":2.189,"Lu":0.335,"REE":114.6},
      {"depth":483,"Tb":0.969,"Dy":6.18,"Ho":1.252,"Er":3.063,"Tm":0.434,"Yb":3.17,"Lu":0.473,"REE":163.7},
      {"depth":488,"Tb":0.369,"Dy":2.43,"Ho":0.502,"Er":1.205,"Tm":0.176,"Yb":1.297,"Lu":0.209,"REE":69.9},
      {"depth":491,"Tb":0.341,"Dy":2.25,"Ho":0.467,"Er":1.118,"Tm":0.164,"Yb":1.209,"Lu":0.197,"REE":65.5},
      {"depth":494,"Tb":0.436,"Dy":2.85,"Ho":0.586,"Er":1.413,"Tm":0.205,"Yb":1.506,"Lu":0.238,"REE":80.4},
      {"depth":500,"Tb":0.493,"Dy":3.2,"Ho":0.657,"Er":1.589,"Tm":0.229,"Yb":1.684,"Lu":0.264,"REE":89.3},
      {"depth":506,"Tb":0.588,"Dy":3.8,"Ho":0.776,"Er":1.884,"Tm":0.27,"Yb":1.982,"Lu":0.306,"REE":104.2},
      {"depth":509,"Tb":0.635,"Dy":4.09,"Ho":0.835,"Er":2.03,"Tm":0.291,"Yb":2.129,"Lu":0.326,"REE":111.6},
      {"depth":515,"Tb":0.588,"Dy":3.8,"Ho":0.776,"Er":1.884,"Tm":0.27,"Yb":1.982,"Lu":0.306,"REE":104.2},
      {"depth":521,"Tb":0.673,"Dy":4.33,"Ho":0.883,"Er":2.148,"Tm":0.307,"Yb":2.248,"Lu":0.343,"REE":117.6},
      {"depth":524,"Tb":0.493,"Dy":3.2,"Ho":0.657,"Er":1.589,"Tm":0.229,"Yb":1.684,"Lu":0.264,"REE":89.3},
      {"depth":527,"Tb":0.369,"Dy":2.43,"Ho":0.502,"Er":1.205,"Tm":0.176,"Yb":1.297,"Lu":0.209,"REE":69.9},
      {"depth":530,"Tb":0.417,"Dy":2.73,"Ho":0.562,"Er":1.354,"Tm":0.197,"Yb":1.447,"Lu":0.23,"REE":77.4},
      {"depth":533,"Tb":0.312,"Dy":2.07,"Ho":0.431,"Er":1.028,"Tm":0.151,"Yb":1.119,"Lu":0.184,"REE":61.0},
      {"depth":536,"Tb":0.464,"Dy":3.02,"Ho":0.621,"Er":1.5,"Tm":0.217,"Yb":1.594,"Lu":0.251,"REE":84.8},
      {"depth":538,"Tb":0.531,"Dy":3.44,"Ho":0.705,"Er":1.707,"Tm":0.246,"Yb":1.803,"Lu":0.28,"REE":95.2},
      {"depth":542,"Tb":0.635,"Dy":4.09,"Ho":0.835,"Er":2.03,"Tm":0.291,"Yb":2.129,"Lu":0.326,"REE":111.6},
      {"depth":546,"Tb":0.673,"Dy":4.33,"Ho":0.883,"Er":2.148,"Tm":0.307,"Yb":2.248,"Lu":0.343,"REE":117.6},
      {"depth":549,"Tb":0.654,"Dy":4.21,"Ho":0.859,"Er":2.089,"Tm":0.299,"Yb":2.189,"Lu":0.335,"REE":114.6},
      {"depth":552,"Tb":0.683,"Dy":4.39,"Ho":0.895,"Er":2.179,"Tm":0.311,"Yb":2.279,"Lu":0.347,"REE":119.0},
      {"depth":555,"Tb":0.512,"Dy":3.32,"Ho":0.681,"Er":1.648,"Tm":0.238,"Yb":1.744,"Lu":0.272,"REE":92.3},
      {"depth":558,"Tb":0.531,"Dy":3.44,"Ho":0.705,"Er":1.707,"Tm":0.246,"Yb":1.803,"Lu":0.28,"REE":95.2},
      {"depth":561,"Tb":0.626,"Dy":4.04,"Ho":0.824,"Er":2.002,"Tm":0.287,"Yb":2.1,"Lu":0.322,"REE":110.1},
      {"depth":564,"Tb":0.702,"Dy":4.51,"Ho":0.919,"Er":2.238,"Tm":0.32,"Yb":2.338,"Lu":0.356,"REE":122.0},
      {"depth":566,"Tb":0.635,"Dy":4.09,"Ho":0.835,"Er":2.03,"Tm":0.291,"Yb":2.129,"Lu":0.326,"REE":111.6}
    ]
  },
  "spacing": 41,
  "resolve": {"scale": {"color": "independent"}},
  "vconcat": [
    {
      "hconcat": [
        {
          "width": 799,
          "height": 325,
          "layer": [
            {"data": {"name": "units1"}, "mark": {"type": "rect"},
             "encoding": {
               "y": {"field": "top", "type": "quantitative", "title": "Depth (cm)", "scale": {"domain": [0, 600], "reverse": true, "nice": false, "zero": false}, "axis": {"values": [0,50,100,150,200,250,300,350,400,450,500,550,600], "zindex": 1}},
               "y2": {"field": "bottom"},
               "color": {"field": "unit", "type": "nominal", "scale": {"domain": ["ombrotrophic", "transitional", "minerotrophic"], "range": ["#c8c8c8", "#ffff00", "#00ffff"]}, "legend": null}
             }},
            {"data": {"name": "ages1"}, "mark": {"type": "rule", "color": "#3a3a3a", "strokeWidth": 1, "strokeDash": [7, 3]},
             "encoding": {"y": {"field": "depth", "type": "quantitative", "title": "Depth (cm)", "scale": {"domain": [0, 600], "reverse": true, "nice": false, "zero": false}}}},
            {"data": {"name": "top"}, "mark": {"type": "line", "color": "#000", "strokeWidth": 1, "point": {"filled": true, "size": 8, "color": "#000"}},
             "encoding": {
               "x": {"field": "La", "type": "quantitative", "scale": {"domain": [0, 40], "range": [1, 122], "nice": false, "zero": false}, "axis": {"orient": "bottom", "values": [0, 10, 20, 30, 40], "title": "La (mg kg⁻¹)"}},
               "y": {"field": "depth", "type": "quantitative", "title": "Depth (cm)", "scale": {"domain": [0, 600], "reverse": true, "nice": false, "zero": false}},
               "order": {"field": "depth", "type": "quantitative"}}},
            {"data": {"name": "top"}, "mark": {"type": "line", "color": "#000", "strokeWidth": 1, "point": {"filled": true, "size": 8, "color": "#000"}},
             "encoding": {
               "x": {"field": "Ce", "type": "quantitative", "scale": {"domain": [0, 70], "range": [96, 217], "nice": false, "zero": false}, "axis": {"orient": "top", "values": [0, 10, 20, 30, 40, 50, 60, 70], "title": "Ce (mg kg⁻¹)"}},
               "y": {"field": "depth", "type": "quantitative", "title": "Depth (cm)", "scale": {"domain": [0, 600], "reverse": true, "nice": false, "zero": false}},
               "order": {"field": "depth", "type": "quantitative"}}},
            {"data": {"name": "top"}, "mark": {"type": "line", "color": "#000", "strokeWidth": 1, "point": {"filled": true, "size": 8, "color": "#000"}},
             "encoding": {
               "x": {"field": "Pr", "type": "quantitative", "scale": {"domain": [0, 10], "range": [190, 312], "nice": false, "zero": false}, "axis": {"orient": "bottom", "values": [0, 2, 4, 6, 8, 10], "title": "Pr (mg kg⁻¹)"}},
               "y": {"field": "depth", "type": "quantitative", "title": "Depth (cm)", "scale": {"domain": [0, 600], "reverse": true, "nice": false, "zero": false}},
               "order": {"field": "depth", "type": "quantitative"}}},
            {"data": {"name": "top"}, "mark": {"type": "line", "color": "#000", "strokeWidth": 1, "point": {"filled": true, "size": 8, "color": "#000"}},
             "encoding": {
               "x": {"field": "Nd", "type": "quantitative", "scale": {"domain": [0, 30], "range": [289, 394], "nice": false, "zero": false}, "axis": {"orient": "top", "values": [0, 10, 20, 30], "title": "Nd (mg kg⁻¹)"}},
               "y": {"field": "depth", "type": "quantitative", "title": "Depth (cm)", "scale": {"domain": [0, 600], "reverse": true, "nice": false, "zero": false}},
               "order": {"field": "depth", "type": "quantitative"}}},
            {"data": {"name": "top"}, "mark": {"type": "line", "color": "#000", "strokeWidth": 1, "point": {"filled": true, "size": 8, "color": "#000"}},
             "encoding": {
               "x": {"field": "Sm", "type": "quantitative", "scale": {"domain": [0, 6], "range": [382, 504], "nice": false, "zero": false}, "axis": {"orient": "bottom", "values": [0, 1, 2, 3, 4, 5, 6], "title": "Sm (mg kg⁻¹)"}},
               "y": {"field": "depth", "type": "quantitative", "title": "Depth (cm)", "scale": {"domain": [0, 600], "reverse": true, "nice": false, "zero": false}},
               "order": {"field": "depth", "type": "quantitative"}}},
            {"data": {"name": "top"}, "mark": {"type": "line", "color": "#000", "strokeWidth": 1, "point": {"filled": true, "size": 8, "color": "#000"}},
             "encoding": {
               "x": {"field": "Eu", "type": "quantitative", "scale": {"domain": [0, 1], "range": [474, 597], "nice": false, "zero": false}, "axis": {"orient": "top", "values": [0, 0.2, 0.4, 0.6, 0.8, 1], "labelExpr": "datum.value === 0 ? '0.0' : replace(format(datum.value, '.1f'), '0.', '.')", "title": "Eu (mg kg⁻¹)"}},
               "y": {"field": "depth", "type": "quantitative", "title": "Depth (cm)", "scale": {"domain": [0, 600], "reverse": true, "nice": false, "zero": false}},
               "order": {"field": "depth", "type": "quantitative"}}},
            {"data": {"name": "top"}, "mark": {"type": "line", "color": "#000", "strokeWidth": 1, "point": {"filled": true, "size": 8, "color": "#000"}},
             "encoding": {
               "x": {"field": "Gd", "type": "quantitative", "scale": {"domain": [0, 5], "range": [596, 718], "nice": false, "zero": false}, "axis": {"orient": "bottom", "values": [0, 1, 2, 3, 4, 5], "title": "Gd (mg kg⁻¹)"}},
               "y": {"field": "depth", "type": "quantitative", "title": "Depth (cm)", "scale": {"domain": [0, 600], "reverse": true, "nice": false, "zero": false}},
               "order": {"field": "depth", "type": "quantitative"}}},
            {"data": {"name": "top"}, "mark": {"type": "line", "color": "#000", "strokeWidth": 1, "point": {"filled": true, "size": 8, "color": "#000"}},
             "encoding": {
               "x": {"field": "REE", "type": "quantitative", "scale": {"domain": [0, 180], "range": [678, 799], "nice": false, "zero": false}, "axis": {"orient": "top", "values": [0, 30, 60, 90, 120, 150, 180], "title": "REEs (mg kg⁻¹)"}},
               "y": {"field": "depth", "type": "quantitative", "title": "Depth (cm)", "scale": {"domain": [0, 600], "reverse": true, "nice": false, "zero": false}},
               "order": {"field": "depth", "type": "quantitative"}}},
            {"data": {"name": "frame"}, "transform": [{"filter": "datum.edge !== 'right'"}], "mark": {"type": "rule", "color": "#555", "strokeWidth": 1},
             "encoding": {"y": {"field": "depth", "type": "quantitative", "title": "Depth (cm)", "scale": {"domain": [0, 600], "reverse": true, "nice": false, "zero": false}}}},
            {"data": {"name": "frame"}, "transform": [{"filter": "datum.edge === 'right'"}], "mark": {"type": "rule", "color": "#555", "strokeWidth": 1},
             "encoding": {"x": {"value": "width"}}}
          ],
          "resolve": {"scale": {"x": "independent"}, "axis": {"x": "independent"}}
        },
        {
          "width": 12,
          "height": 325,
          "layer": [
            {"data": {"name": "zones1"}, "mark": {"type": "rect"},
             "encoding": {
               "y": {"field": "top", "type": "quantitative", "scale": {"domain": [0, 600], "reverse": true, "nice": false, "zero": false}, "axis": null},
               "y2": {"field": "bottom"},
               "color": {"field": "zone", "type": "nominal", "scale": {"domain": ["Ombrotrophic", "Minerotrophic"], "range": ["#c8c8c8", "#00ffff"]}, "legend": null}}},
            {"data": {"name": "ages1"}, "mark": {"type": "rule", "color": "#3a3a3a", "strokeWidth": 1, "strokeDash": [7, 3]},
             "encoding": {"y": {"field": "depth", "type": "quantitative", "scale": {"domain": [0, 600], "reverse": true, "nice": false, "zero": false}, "axis": null}}}
          ]
        },
        {
          "width": 40,
          "height": 325,
          "title": {"text": "Cal age (yr BP)", "orient": "bottom", "anchor": "end", "frame": "group", "offset": 6, "dx": -2},
          "layer": [
            {"data": {"name": "zones1"}, "mark": {"type": "rect"},
             "encoding": {
               "y": {"field": "top", "type": "quantitative", "scale": {"domain": [0, 600], "reverse": true, "nice": false, "zero": false}, "axis": null},
               "y2": {"field": "bottom"},
               "color": {"field": "zone", "type": "nominal", "scale": {"domain": ["Ombrotrophic", "Minerotrophic"], "range": ["#c8c8c8", "#00ffff"]}, "legend": null}}},
            {"data": {"name": "ages1"}, "mark": {"type": "text", "align": "left", "baseline": "middle", "dx": -17, "fontSize": 9.5, "color": "#1a1a1a"},
             "encoding": {
               "y": {"field": "depth", "type": "quantitative", "scale": {"domain": [0, 600], "reverse": true, "nice": false, "zero": false}, "axis": null},
               "text": {"field": "age", "type": "quantitative", "format": "d"}}},
            {"data": {"name": "zones1"}, "transform": [{"fold": ["top", "bottom"], "as": ["edge", "d"]}],
             "mark": {"type": "text", "angle": 270, "align": "center", "baseline": "alphabetic", "dy": 19, "fontSize": 10, "color": "#333", "clip": true},
             "encoding": {
               "y": {"aggregate": "mean", "field": "d", "type": "quantitative", "scale": {"domain": [0, 600], "reverse": true, "nice": false, "zero": false}, "axis": null},
               "text": {"field": "zone", "type": "nominal"}}}
          ]
        }
      ],
      "spacing": 0,
      "bounds": "flush",
      "resolve": {"scale": {"color": "independent"}}
    },
    {
      "hconcat": [
        {
          "width": 799,
          "height": 323,
          "layer": [
            {"data": {"name": "units2"}, "mark": {"type": "rect"},
             "encoding": {
               "y": {"field": "top", "type": "quantitative", "title": "Depth (cm)", "scale": {"domain": [0, 600], "reverse": true, "nice": false, "zero": false}, "axis": {"values": [0,50,100,150,200,250,300,350,400,450,500,550,600], "zindex": 1}},
               "y2": {"field": "bottom"},
               "color": {"field": "unit", "type": "nominal", "scale": {"domain": ["ombrotrophic", "transitional", "minerotrophic"], "range": ["#c8c8c8", "#ffff00", "#00ffff"]}, "legend": null}
             }},
            {"data": {"name": "ages2"}, "mark": {"type": "rule", "color": "#3a3a3a", "strokeWidth": 1, "strokeDash": [7, 3]},
             "encoding": {"y": {"field": "depth", "type": "quantitative", "title": "Depth (cm)", "scale": {"domain": [0, 600], "reverse": true, "nice": false, "zero": false}}}},
            {"data": {"name": "bottom"}, "mark": {"type": "line", "color": "#000", "strokeWidth": 1, "point": {"filled": true, "size": 8, "color": "#000"}},
             "encoding": {
               "x": {"field": "Tb", "type": "quantitative", "scale": {"domain": [0, 0.8], "range": [1, 122], "nice": false, "zero": false}, "axis": {"orient": "bottom", "values": [0, 0.2, 0.4, 0.6, 0.8], "labelExpr": "datum.value === 0 ? '0.0' : replace(format(datum.value, '.1f'), '0.', '.')", "title": "Tb (mg kg⁻¹)"}},
               "y": {"field": "depth", "type": "quantitative", "title": "Depth (cm)", "scale": {"domain": [0, 600], "reverse": true, "nice": false, "zero": false}},
               "order": {"field": "depth", "type": "quantitative"}}},
            {"data": {"name": "bottom"}, "mark": {"type": "line", "color": "#000", "strokeWidth": 1, "point": {"filled": true, "size": 8, "color": "#000"}},
             "encoding": {
               "x": {"field": "Dy", "type": "quantitative", "scale": {"domain": [0, 5], "range": [95, 217], "nice": false, "zero": false}, "axis": {"orient": "top", "values": [0, 1, 2, 3, 4, 5], "title": "Dy (mg kg⁻¹)"}},
               "y": {"field": "depth", "type": "quantitative", "title": "Depth (cm)", "scale": {"domain": [0, 600], "reverse": true, "nice": false, "zero": false}},
               "order": {"field": "depth", "type": "quantitative"}}},
            {"data": {"name": "bottom"}, "mark": {"type": "line", "color": "#000", "strokeWidth": 1, "point": {"filled": true, "size": 8, "color": "#000"}},
             "encoding": {
               "x": {"field": "Ho", "type": "quantitative", "scale": {"domain": [0, 1], "range": [191, 313], "nice": false, "zero": false}, "axis": {"orient": "bottom", "values": [0, 0.2, 0.4, 0.6, 0.8, 1], "labelExpr": "datum.value === 0 ? '0.0' : replace(format(datum.value, '.1f'), '0.', '.')", "title": "Ho (mg kg⁻¹)"}},
               "y": {"field": "depth", "type": "quantitative", "title": "Depth (cm)", "scale": {"domain": [0, 600], "reverse": true, "nice": false, "zero": false}},
               "order": {"field": "depth", "type": "quantitative"}}},
            {"data": {"name": "bottom"}, "mark": {"type": "line", "color": "#000", "strokeWidth": 1, "point": {"filled": true, "size": 8, "color": "#000"}},
             "encoding": {
               "x": {"field": "Er", "type": "quantitative", "scale": {"domain": [0, 2.5], "range": [290, 413], "nice": false, "zero": false}, "axis": {"orient": "top", "values": [0, 0.5, 1, 1.5, 2, 2.5], "labelExpr": "datum.value === 0 ? '0.0' : replace(format(datum.value, '.1f'), '0.', '.')", "title": "Er (mg kg⁻¹)"}},
               "y": {"field": "depth", "type": "quantitative", "title": "Depth (cm)", "scale": {"domain": [0, 600], "reverse": true, "nice": false, "zero": false}},
               "order": {"field": "depth", "type": "quantitative"}}},
            {"data": {"name": "bottom"}, "mark": {"type": "line", "color": "#000", "strokeWidth": 1, "point": {"filled": true, "size": 8, "color": "#000"}},
             "encoding": {
               "x": {"field": "Tm", "type": "quantitative", "scale": {"domain": [0, 0.35], "range": [382, 506], "nice": false, "zero": false}, "axis": {"orient": "bottom", "values": [0, 0.05, 0.1, 0.15, 0.2, 0.25, 0.3, 0.35], "labelExpr": "datum.value === 0 ? '0.00' : replace(format(datum.value, '.2f'), '0.', '.')", "title": "Tm (mg kg⁻¹)"}},
               "y": {"field": "depth", "type": "quantitative", "title": "Depth (cm)", "scale": {"domain": [0, 600], "reverse": true, "nice": false, "zero": false}},
               "order": {"field": "depth", "type": "quantitative"}}},
            {"data": {"name": "bottom"}, "mark": {"type": "line", "color": "#000", "strokeWidth": 1, "point": {"filled": true, "size": 8, "color": "#000"}},
             "encoding": {
               "x": {"field": "Yb", "type": "quantitative", "scale": {"domain": [0, 2.5], "range": [475, 597], "nice": false, "zero": false}, "axis": {"orient": "top", "values": [0, 0.5, 1, 1.5, 2, 2.5], "labelExpr": "datum.value === 0 ? '0.0' : replace(format(datum.value, '.1f'), '0.', '.')", "title": "Yb (mg kg⁻¹)"}},
               "y": {"field": "depth", "type": "quantitative", "title": "Depth (cm)", "scale": {"domain": [0, 600], "reverse": true, "nice": false, "zero": false}},
               "order": {"field": "depth", "type": "quantitative"}}},
            {"data": {"name": "bottom"}, "mark": {"type": "line", "color": "#000", "strokeWidth": 1, "point": {"filled": true, "size": 8, "color": "#000"}},
             "encoding": {
               "x": {"field": "Lu", "type": "quantitative", "scale": {"domain": [0, 0.35], "range": [575, 696], "nice": false, "zero": false}, "axis": {"orient": "bottom", "values": [0, 0.05, 0.1, 0.15, 0.2, 0.25, 0.3, 0.35], "labelExpr": "datum.value === 0 ? '0.00' : replace(format(datum.value, '.2f'), '0.', '.')", "title": "Lu (mg kg⁻¹)"}},
               "y": {"field": "depth", "type": "quantitative", "title": "Depth (cm)", "scale": {"domain": [0, 600], "reverse": true, "nice": false, "zero": false}},
               "order": {"field": "depth", "type": "quantitative"}}},
            {"data": {"name": "bottom"}, "mark": {"type": "line", "color": "#000", "strokeWidth": 1, "point": {"filled": true, "size": 8, "color": "#000"}},
             "encoding": {
               "x": {"field": "REE", "type": "quantitative", "scale": {"domain": [0, 180], "range": [678, 799], "nice": false, "zero": false}, "axis": {"orient": "top", "values": [0, 30, 60, 90, 120, 150, 180], "title": "REEs (mg kg⁻¹)"}},
               "y": {"field": "depth", "type": "quantitative", "title": "Depth (cm)", "scale": {"domain": [0, 600], "reverse": true, "nice": false, "zero": false}},
               "order": {"field": "depth", "type": "quantitative"}}},
            {"data": {"name": "frame"}, "transform": [{"filter": "datum.edge !== 'right'"}], "mark": {"type": "rule", "color": "#555", "strokeWidth": 1},
             "encoding": {"y": {"field": "depth", "type": "quantitative", "title": "Depth (cm)", "scale": {"domain": [0, 600], "reverse": true, "nice": false, "zero": false}}}},
            {"data": {"name": "frame"}, "transform": [{"filter": "datum.edge === 'right'"}], "mark": {"type": "rule", "color": "#555", "strokeWidth": 1},
             "encoding": {"x": {"value": "width"}}}
          ],
          "resolve": {"scale": {"x": "independent"}, "axis": {"x": "independent"}}
        },
        {
          "width": 12,
          "height": 323,
          "layer": [
            {"data": {"name": "zones2"}, "mark": {"type": "rect"},
             "encoding": {
               "y": {"field": "top", "type": "quantitative", "scale": {"domain": [0, 600], "reverse": true, "nice": false, "zero": false}, "axis": null},
               "y2": {"field": "bottom"},
               "color": {"field": "zone", "type": "nominal", "scale": {"domain": ["Ombrotrophic", "Minerotrophic"], "range": ["#c8c8c8", "#00ffff"]}, "legend": null}}},
            {"data": {"name": "ages2"}, "mark": {"type": "rule", "color": "#3a3a3a", "strokeWidth": 1, "strokeDash": [7, 3]},
             "encoding": {"y": {"field": "depth", "type": "quantitative", "scale": {"domain": [0, 600], "reverse": true, "nice": false, "zero": false}, "axis": null}}}
          ]
        },
        {
          "width": 40,
          "height": 323,
          "title": {"text": "Cal age (yr BP)", "orient": "bottom", "anchor": "end", "frame": "group", "offset": 7, "dx": -26},
          "layer": [
            {"data": {"name": "zones2"}, "mark": {"type": "rect"},
             "encoding": {
               "y": {"field": "top", "type": "quantitative", "scale": {"domain": [0, 600], "reverse": true, "nice": false, "zero": false}, "axis": null},
               "y2": {"field": "bottom"},
               "color": {"field": "zone", "type": "nominal", "scale": {"domain": ["Ombrotrophic", "Minerotrophic"], "range": ["#c8c8c8", "#00ffff"]}, "legend": null}}},
            {"data": {"name": "ages2"}, "mark": {"type": "text", "align": "left", "baseline": "middle", "dx": -17, "fontSize": 9.5, "color": "#1a1a1a"},
             "encoding": {
               "y": {"field": "depth", "type": "quantitative", "scale": {"domain": [0, 600], "reverse": true, "nice": false, "zero": false}, "axis": null},
               "text": {"field": "age", "type": "quantitative", "format": "d"}}},
            {"data": {"name": "zones2"}, "transform": [{"fold": ["top", "bottom"], "as": ["edge", "d"]}],
             "mark": {"type": "text", "angle": 270, "align": "center", "baseline": "alphabetic", "dy": 19, "fontSize": 10, "color": "#333", "clip": true},
             "encoding": {
               "y": {"aggregate": "mean", "field": "d", "type": "quantitative", "scale": {"domain": [0, 600], "reverse": true, "nice": false, "zero": false}, "axis": null},
               "text": {"field": "zone", "type": "nominal"}}}
          ]
        }
      ],
      "spacing": 0,
      "bounds": "flush",
      "resolve": {"scale": {"color": "independent"}}
    }
  ]
}
